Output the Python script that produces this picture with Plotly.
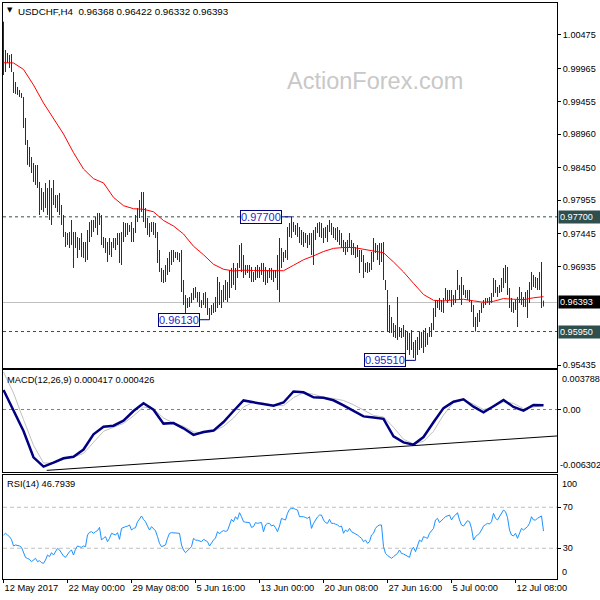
import plotly.graph_objects as go

# ---------------- data ----------------
symbol_title = "USDCHF,H4  0.96368 0.96422 0.96332 0.96393"
macd_title = "MACD(12,26,9) 0.000417 0.000426"
rsi_title = "RSI(14) 46.7939"

bar_highs = [
    1.00678, 1.00246, 1.00200, 1.00170, 1.00185, 0.99910, 0.99758, 0.99682, 0.99636, 0.99590,
    0.99529, 0.99209, 0.98873, 0.98766, 0.98613, 0.98522, 0.98491, 0.98491, 0.98232, 0.98140,
    0.98079, 0.98216, 0.98140, 0.98262, 0.98140, 0.98262, 0.98033, 0.98033, 0.98064, 0.97881,
    0.97728, 0.97469, 0.97453, 0.97469, 0.97652, 0.97469, 0.97469, 0.97392, 0.97377, 0.97453,
    0.97316, 0.97316, 0.97499, 0.97621, 0.97652, 0.97652, 0.97698, 0.97759, 0.97759, 0.97728,
    0.97392, 0.97377, 0.97316, 0.97377, 0.97316, 0.97377, 0.97377, 0.97453, 0.97453, 0.97469,
    0.97621, 0.97606, 0.97606, 0.97576, 0.97621, 0.97530, 0.97728, 0.97835, 0.97957, 0.98079,
    0.98079, 0.97835, 0.97682, 0.97606, 0.97621, 0.97621, 0.97606, 0.97469, 0.97194, 0.96920,
    0.96889, 0.96965, 0.97072, 0.97164, 0.97194, 0.97194, 0.97164, 0.97164, 0.97148, 0.97194,
    0.96736, 0.96507, 0.96462, 0.96477, 0.96538, 0.96614, 0.96630, 0.96553, 0.96553, 0.96431,
    0.96538, 0.96553, 0.96462, 0.96309, 0.96355, 0.96385, 0.96477, 0.96782, 0.96706, 0.96584,
    0.96660, 0.96736, 0.96706, 0.96889, 0.96920, 0.96996, 0.96920, 0.96996, 0.97270, 0.97301,
    0.97118, 0.96965, 0.96965, 0.96965, 0.96935, 0.96858, 0.96935, 0.96965, 0.96935, 0.96996,
    0.96996, 0.96935, 0.96889, 0.96920, 0.96920, 0.96889, 0.96889, 0.97118, 0.97377, 0.97225,
    0.97164, 0.97194, 0.97545, 0.97606, 0.97700, 0.97621, 0.97576, 0.97606, 0.97545, 0.97499,
    0.97469, 0.97453, 0.97423, 0.97453, 0.97453, 0.97499, 0.97545, 0.97606, 0.97621, 0.97606,
    0.97530, 0.97545, 0.97576, 0.97652, 0.97606, 0.97545, 0.97530, 0.97545, 0.97499, 0.97453,
    0.97347, 0.97316, 0.97347, 0.97453, 0.97347, 0.97301, 0.97240, 0.97270, 0.97194, 0.97194,
    0.97118, 0.96996, 0.97011, 0.96996, 0.97164, 0.97377, 0.97301, 0.97270, 0.97301, 0.97301,
    0.97316, 0.96736, 0.96584, 0.96355, 0.96172, 0.96080, 0.96050, 0.96477, 0.96019, 0.96004,
    0.96050, 0.95973, 0.95943, 0.95928, 0.95973, 0.95790, 0.95821, 0.95867, 0.95943, 0.95943,
    0.95973, 0.96004, 0.95928, 0.96019, 0.96080, 0.96309, 0.96431, 0.96431, 0.96462, 0.96431,
    0.96462, 0.96614, 0.96584, 0.96584, 0.96584, 0.96507, 0.96584, 0.96889, 0.96660, 0.96782,
    0.96660, 0.96584, 0.96584, 0.96584, 0.96431, 0.96355, 0.96172, 0.96233, 0.96279, 0.96385,
    0.96431, 0.96462, 0.96462, 0.96477, 0.96538, 0.96767, 0.96736, 0.96630, 0.96660, 0.96767,
    0.96920, 0.96965, 0.96935, 0.96614, 0.96462, 0.96401, 0.96431, 0.96477, 0.96630, 0.96553,
    0.96477, 0.96553, 0.96584, 0.96706, 0.96858, 0.96813, 0.96782, 0.96767, 0.96858, 0.97011,
    0.96422,
]

bar_lows = [
    0.99865, 0.99910, 1.00048, 0.99971, 0.99910, 0.99590, 0.99575, 0.99560, 0.99529, 0.99514,
    0.99056, 0.98797, 0.98491, 0.98461, 0.98369, 0.98232, 0.98186, 0.98140, 0.97728, 0.97804,
    0.97774, 0.97835, 0.97728, 0.97652, 0.97576, 0.97881, 0.97835, 0.97774, 0.97728, 0.97576,
    0.97392, 0.97240, 0.97270, 0.97225, 0.97270, 0.96920, 0.97225, 0.97072, 0.97194, 0.97087,
    0.97072, 0.97011, 0.97042, 0.97316, 0.97392, 0.97469, 0.97530, 0.97423, 0.97576, 0.97270,
    0.97225, 0.97148, 0.97011, 0.97118, 0.97087, 0.97225, 0.97194, 0.97270, 0.96996, 0.96965,
    0.97316, 0.97392, 0.97423, 0.97469, 0.97316, 0.97316, 0.97453, 0.97621, 0.97682, 0.97774,
    0.97621, 0.97530, 0.97423, 0.97392, 0.97469, 0.97423, 0.97377, 0.96996, 0.96858, 0.96706,
    0.96690, 0.96706, 0.96813, 0.96858, 0.96965, 0.97011, 0.97072, 0.97042, 0.97011, 0.96553,
    0.96355, 0.96233, 0.96309, 0.96324, 0.96385, 0.96431, 0.96462, 0.96401, 0.96324, 0.96309,
    0.96355, 0.96309, 0.96202, 0.96130, 0.96202, 0.96233, 0.96248, 0.96309, 0.96355, 0.96309,
    0.96401, 0.96431, 0.96401, 0.96462, 0.96614, 0.96660, 0.96584, 0.96767, 0.96920, 0.96858,
    0.96767, 0.96813, 0.96843, 0.96767, 0.96706, 0.96706, 0.96736, 0.96767, 0.96767, 0.96813,
    0.96706, 0.96660, 0.96690, 0.96767, 0.96736, 0.96706, 0.96767, 0.96584, 0.96401, 0.96920,
    0.97011, 0.97072, 0.97042, 0.97392, 0.97377, 0.97469, 0.97423, 0.97392, 0.97301, 0.97270,
    0.97240, 0.97301, 0.97225, 0.97270, 0.97118, 0.96965, 0.97347, 0.97453, 0.97392, 0.97377,
    0.97301, 0.97377, 0.97316, 0.97469, 0.97423, 0.97377, 0.97347, 0.97316, 0.97270, 0.97225,
    0.97164, 0.97118, 0.97164, 0.97240, 0.97118, 0.97118, 0.97072, 0.97087, 0.96843, 0.97011,
    0.96767, 0.96858, 0.96843, 0.96858, 0.96889, 0.97011, 0.97148, 0.97042, 0.96965, 0.97011,
    0.96736, 0.96584, 0.95943, 0.95928, 0.95928, 0.95867, 0.95851, 0.95821, 0.95867, 0.95851,
    0.95867, 0.95622, 0.95668, 0.95592, 0.95668, 0.95546, 0.95510, 0.95592, 0.95668, 0.95699,
    0.95622, 0.95714, 0.95745, 0.95867, 0.95867, 0.95973, 0.96172, 0.96309, 0.96279, 0.96248,
    0.96233, 0.96431, 0.96385, 0.96431, 0.96324, 0.96355, 0.96385, 0.96584, 0.96431, 0.96355,
    0.96507, 0.96462, 0.96431, 0.96401, 0.96248, 0.96019, 0.95950, 0.96019, 0.96096, 0.96233,
    0.96309, 0.96355, 0.96385, 0.96355, 0.96385, 0.96477, 0.96538, 0.96477, 0.96538, 0.96553,
    0.96614, 0.96690, 0.96507, 0.96309, 0.96248, 0.96233, 0.96279, 0.96019, 0.96385, 0.96355,
    0.96324, 0.96324, 0.96157, 0.96385, 0.96584, 0.96630, 0.96614, 0.96584, 0.96584, 0.96309,
    0.96332,
]

# moving average (red), sampled every 5 bars
ma_index = list(range(0, 271, 5))
ma_values = [
    1.00052, 1.00048, 0.99949, 0.99712, 0.99437, 0.99193, 0.98964, 0.98679, 0.98430, 0.98282,
    0.98217, 0.97997, 0.97870, 0.97824, 0.97815, 0.97777, 0.97644, 0.97560, 0.97438, 0.97251,
    0.97122, 0.96976, 0.96900, 0.96874, 0.96886, 0.96880, 0.96878, 0.96869, 0.96878, 0.96961,
    0.97045, 0.97104, 0.97171, 0.97219, 0.97232, 0.97232, 0.97202, 0.97179, 0.97152, 0.97011,
    0.96859, 0.96686, 0.96515, 0.96427, 0.96416, 0.96433, 0.96442, 0.96418, 0.96396, 0.96411,
    0.96453, 0.96442, 0.96436, 0.96465, 0.96482,
]

# MACD main and signal, sampled every 5 bars
macd_index = list(range(0, 271, 5))
macd_main = [
    0.001968, -0.000151, -0.002169, -0.004823, -0.005761, -0.005368, -0.004924, -0.004762, -0.004036, -0.002502,
    -0.001746, -0.001635, -0.001130, -0.000151, 0.000626, -0.000020, -0.001423, -0.001372, -0.001897, -0.002563,
    -0.002280, -0.002129, -0.001261, -0.000151, 0.000918, 0.000726, 0.000525, 0.000383, 0.000706, 0.001816,
    0.001735, 0.001231, 0.001191, 0.000928, 0.000424, -0.000111, -0.000696, -0.000797, -0.000938, -0.002704,
    -0.003320, -0.003542, -0.002775, -0.001292, 0.000141, 0.000787, 0.001029, 0.000283, -0.000293, 0.000323,
    0.000969, 0.000262, -0.000121, 0.000464, 0.000417,
]
macd_signal = [
    0.003788, 0.001665, -0.001029, -0.003612, -0.005398, -0.005408, -0.005035, -0.004803, -0.004430, -0.003350,
    -0.002200, -0.001796, -0.001403, -0.000646, 0.000252, 0.000081, -0.000858, -0.001372, -0.001695, -0.002270,
    -0.002371, -0.002200, -0.001695, -0.000858, 0.000252, 0.000757, 0.000666, 0.000444, 0.000383, 0.001201,
    0.001695, 0.001534, 0.001241, 0.001100, 0.000908, 0.000474, -0.000091, -0.000595, -0.000757, -0.001796,
    -0.003007, -0.003471, -0.003209, -0.002200, -0.000555, 0.000696, 0.000959, 0.000545, -0.000010, 0.000283,
    0.000767, 0.000626, 0.000081, 0.000222, 0.000426,
]
macd_trend_index = [21.6, 276.75]
macd_trend_values = [-0.00614, -0.00267]

# RSI(14), one value per bar
rsi_values = [
    42.9, 44.6, 42.9, 41.3, 38.5, 32.2, 33.2, 33.0, 32.2, 30.9,
    26.7, 21.1, 20.0, 19.2, 16.9, 18.5, 20.2, 16.9, 17.9, 15.9,
    15.3, 18.5, 23.4, 21.8, 25.7, 23.4, 26.7, 29.9, 28.3, 25.0,
    22.4, 21.1, 24.0, 26.7, 28.3, 23.4, 29.0, 32.2, 31.5, 30.9,
    32.2, 31.5, 42.9, 45.5, 46.2, 44.6, 46.2, 47.2, 50.4, 38.0,
    40.0, 41.3, 36.4, 39.7, 44.6, 43.5, 42.9, 45.2, 38.7, 49.4,
    50.5, 51.1, 51.5, 52.7, 47.8, 49.4, 50.0, 55.9, 58.5, 61.5,
    58.0, 55.9, 51.7, 47.8, 51.1, 49.4, 47.0, 41.3, 34.8, 31.5,
    32.0, 33.2, 39.7, 44.6, 45.2, 44.9, 44.6, 44.6, 44.6, 33.2,
    28.3, 25.7, 27.5, 29.9, 31.5, 39.7, 38.0, 37.8, 37.4, 36.4,
    38.7, 37.5, 36.4, 32.2, 35.5, 38.0, 40.0, 46.2, 44.0, 46.2,
    47.2, 46.5, 47.2, 52.7, 58.2, 55.9, 60.8, 58.2, 64.7, 60.8,
    55.9, 55.5, 55.0, 55.0, 50.4, 51.1, 55.0, 54.3, 54.8, 55.0,
    46.2, 52.7, 54.3, 54.3, 51.7, 52.7, 50.0, 46.2, 51.7, 59.2,
    58.2, 57.6, 64.1, 68.0, 68.9, 68.9, 68.0, 67.3, 60.8, 60.8,
    60.8, 60.0, 59.2, 60.8, 49.4, 54.3, 58.2, 60.5, 62.4, 62.4,
    57.6, 55.0, 54.3, 58.2, 54.3, 54.3, 53.5, 52.7, 51.1, 51.7,
    44.6, 47.8, 46.2, 49.4, 46.2, 45.2, 43.5, 42.9, 41.3, 39.7,
    36.4, 38.0, 34.8, 36.4, 42.9, 44.6, 49.4, 51.7, 52.7, 52.7,
    31.5, 25.0, 23.0, 21.1, 20.2, 21.8, 23.5, 25.0, 28.3, 25.0,
    24.4, 23.5, 22.4, 21.1, 28.3, 30.9, 26.7, 31.5, 38.0, 36.4,
    41.3, 40.5, 39.7, 44.6, 47.2, 49.4, 57.6, 59.2, 55.0, 57.6,
    59.0, 60.8, 61.5, 62.4, 57.6, 60.8, 62.4, 64.7, 57.6, 52.7,
    51.7, 54.0, 56.9, 55.9, 49.4, 38.0, 41.3, 43.0, 44.6, 47.8,
    51.7, 53.0, 54.3, 53.7, 55.9, 64.1, 59.2, 57.6, 60.8, 64.1,
    67.3, 65.7, 60.0, 47.8, 42.9, 42.0, 44.6, 39.7, 45.2, 49.4,
    47.8, 49.5, 51.1, 54.3, 60.8, 57.6, 57.6, 59.2, 60.0, 61.5,
    46.7939,
]

# price levels
resistance_level = 0.97700
support_level = 0.95950
current_price = 0.96393
marked_low_1 = 0.96130
marked_low_2 = 0.95510
marked_high_idx = 144
marked_low_1_idx = 103
marked_low_2_idx = 206

price_tick_values = [1.00475, 0.99965, 0.99455, 0.98960, 0.98450, 0.97955, 0.97445, 0.96935, 0.95435]
macd_max_label = 0.003788
macd_min_label = -0.006302
rsi_levels = [70, 30]

time_tick_index = [0, 32, 64, 96, 128, 160, 192, 224, 256]
time_tick_text = ["12 May 2017", "22 May 00:00", "29 May 08:00", "5 Jun 16:00", "13 Jun 00:00",
                  "20 Jun 08:00", "27 Jun 16:00", "5 Jul 00:00", "12 Jul 08:00"]

# ---------------- styling ----------------
FONT = "Liberation Sans, Arial, sans-serif"
BAR_COLOR = "#0E3656"
X_RANGE = [-0.25, 276.75]

fig = go.Figure()

# OHLC bars as high-low segments
seg_x, seg_y = [], []
for i, (h, l) in enumerate(zip(bar_highs, bar_lows)):
    seg_x += [i, i, None]
    seg_y += [l, h, None]
fig.add_trace(go.Scatter(x=seg_x, y=seg_y, mode="lines", line=dict(color=BAR_COLOR, width=1),
                         xaxis="x", yaxis="y", hoverinfo="skip"))
fig.add_trace(go.Scatter(x=ma_index, y=ma_values, mode="lines", line=dict(color="#FF0000", width=1),
                         xaxis="x", yaxis="y", hoverinfo="skip"))

# MACD
fig.add_trace(go.Scatter(x=macd_index, y=macd_signal, mode="lines", line=dict(color="#C0C0C0", width=1),
                         xaxis="x2", yaxis="y2", hoverinfo="skip"))
fig.add_trace(go.Scatter(x=macd_index, y=macd_main, mode="lines", line=dict(color="#000080", width=2.5),
                         xaxis="x2", yaxis="y2", hoverinfo="skip"))
fig.add_trace(go.Scatter(x=macd_trend_index, y=macd_trend_values, mode="lines", line=dict(color="black", width=1),
                         xaxis="x2", yaxis="y2", hoverinfo="skip"))

# RSI
fig.add_trace(go.Scatter(x=list(range(len(rsi_values))), y=rsi_values, mode="lines",
                         line=dict(color="#1E90FF", width=1), xaxis="x3", yaxis="y3", hoverinfo="skip"))

ax_common = dict(range=X_RANGE, showgrid=False, zeroline=False, showline=True, mirror=True,
                 linecolor="black", linewidth=1, fixedrange=True)

fig.update_layout(
    width=600, height=600,
    margin=dict(l=3, r=43, t=3, b=21, autoexpand=False),
    paper_bgcolor="white", plot_bgcolor="white",
    showlegend=False,
    font=dict(family=FONT, size=9.3, color="black"),
    xaxis=dict(anchor="y", showticklabels=False, ticks="", **ax_common),
    xaxis2=dict(anchor="y2", showticklabels=False, ticks="", **ax_common),
    xaxis3=dict(anchor="y3", tickvals=time_tick_index, ticktext=time_tick_text, ticks="outside",
                ticklen=3, tickcolor="black", ticklabelposition="outside right", tickangle=0,
                tickfont=dict(family=FONT, size=9.3, color="black"), **ax_common),
    yaxis=dict(domain=[0.36684, 1.0], range=[0.95398, 1.00963], side="right", showgrid=False,
               zeroline=False, showline=True, mirror=True, linecolor="black", tickvals=price_tick_values,
               tickformat=".5f", ticks="outside", ticklen=3, tickcolor="black",
               tickfont=dict(family=FONT, size=9.1, color="black"), fixedrange=True),
    yaxis2=dict(domain=[0.18576, 0.36198], range=[-0.006306, 0.003935], side="right", showgrid=False,
                zeroline=False, showline=True, mirror=True, linecolor="black", tickvals=[0],
                ticktext=["0.00"], ticks="outside", ticklen=3, tickcolor="black",
                tickfont=dict(family=FONT, size=9.1, color="black"), fixedrange=True),
    yaxis3=dict(domain=[0.0, 0.17969], range=[0, 101], side="right", showgrid=False,
                zeroline=False, showline=True, mirror=True, linecolor="black", tickvals=rsi_levels,
                ticks="outside", ticklen=3, tickcolor="black",
                tickfont=dict(family=FONT, size=9.1, color="black"), fixedrange=True),
)

shapes = [
    dict(type="line", xref="x domain", x0=0, x1=1, yref="y", y0=current_price, y1=current_price,
         line=dict(color="#C0C0C0", width=1), layer="below"),
    dict(type="line", xref="x domain", x0=0, x1=1, yref="y", y0=resistance_level, y1=resistance_level,
         line=dict(color="#2F4F4F", width=1, dash="3px,3px"), layer="below"),
    dict(type="line", xref="x domain", x0=0, x1=1, yref="y", y0=support_level, y1=support_level,
         line=dict(color="#2F4F4F", width=1, dash="3px,3px"), layer="below"),
    dict(type="line", xref="x2 domain", x0=0, x1=1, yref="y2", y0=0, y1=0,
         line=dict(color="#808080", width=1, dash="3px,3px"), layer="below"),
]
for lv in rsi_levels:
    shapes.append(dict(type="line", xref="x3 domain", x0=0, x1=1, yref="y3", y0=lv, y1=lv,
                       line=dict(color="#C0C0C0", width=1, dash="4px,3px"), layer="below"))
fig.update_layout(shapes=shapes)

ann = []
# title
ann.append(dict(xref="paper", yref="paper", x=0, y=1, xanchor="left", yanchor="top", xshift=2, yshift=-1,
                text="▼", showarrow=False, font=dict(family="DejaVu Sans", size=7, color="black")))
ann.append(dict(xref="paper", yref="paper", x=0, y=1, xanchor="left", yanchor="top", xshift=13, yshift=-1,
                text=symbol_title, showarrow=False, font=dict(family=FONT, size=9.8, color="black")))
ann.append(dict(xref="paper", yref="paper", x=0.6715, y=0.8646, xanchor="center", yanchor="middle",
                text="ActionForex.com", showarrow=False, font=dict(family=FONT, size=23.5, color="#C8C8C8")))
ann.append(dict(xref="x2 domain", yref="y2 domain", x=0, y=1, xanchor="left", yanchor="top", xshift=2, yshift=-3,
                text=macd_title, showarrow=False, font=dict(family=FONT, size=9.3, color="black")))
ann.append(dict(xref="x3 domain", yref="y3 domain", x=0, y=1, xanchor="left", yanchor="top", xshift=2, yshift=-2,
                text=rsi_title, showarrow=False, font=dict(family=FONT, size=9.3, color="black")))

# price-label boxes with leader lines
for idx_, val, shift in [(marked_high_idx, resistance_level, -31), (marked_low_1_idx, marked_low_1, -31),
                         (marked_low_2_idx, marked_low_2, -31)]:
    ann.append(dict(xref="x", yref="y", x=idx_, y=val, text=f"{val:.5f}", showarrow=True, arrowhead=0,
                    arrowwidth=1, arrowcolor="#000080", ax=shift, ay=0, axref="pixel", ayref="pixel",
                    bgcolor="white", bordercolor="#000080", borderwidth=1, borderpad=0,
                    font=dict(family=FONT, size=11, color="#2828C8")))

# right-axis highlighted price boxes
for val, bg in [(resistance_level, "#2F4F4F"), (current_price, "#000000"), (support_level, "#2F4F4F")]:
    ann.append(dict(xref="paper", yref="y", x=1, y=val, xanchor="left", yanchor="middle", xshift=1,
                    text=f"{val:.5f}", showarrow=False, bgcolor=bg, borderpad=1, width=40, align="left",
                    font=dict(family=FONT, size=9.1, color="white")))

# edge labels on indicator axes
ann.append(dict(xref="paper", yref="y2", x=1, y=macd_max_label, xanchor="left", yanchor="top", xshift=3,
                text=f"{macd_max_label:.6f}", showarrow=False, font=dict(family=FONT, size=9.1, color="black")))
ann.append(dict(xref="paper", yref="y2", x=1, y=macd_min_label, xanchor="left", yanchor="bottom", xshift=1,
                text=f"{macd_min_label:.6f}", showarrow=False, font=dict(family=FONT, size=9.1, color="black")))
ann.append(dict(xref="paper", yref="y3", x=1, y=100, xanchor="left", yanchor="top", xshift=3,
                text="100", showarrow=False, font=dict(family=FONT, size=9.1, color="black")))
ann.append(dict(xref="paper", yref="y3", x=1, y=0, xanchor="left", yanchor="bottom", xshift=3,
                text="0", showarrow=False, font=dict(family=FONT, size=9.1, color="black")))

fig.update_layout(annotations=ann)

fig.write_html("out.html", config={"displayModeBar": False},
               post_script="document.body.style.margin='0';document.body.style.padding='0';")
